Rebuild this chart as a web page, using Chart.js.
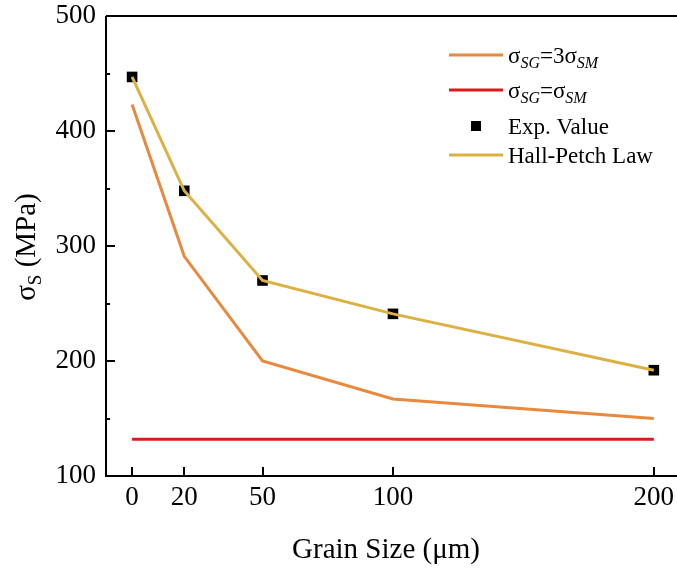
<!DOCTYPE html>
<html>
<head>
<meta charset="utf-8">
<script src="https://cdn.jsdelivr.net/npm/chart.js@4.4.1/dist/chart.umd.min.js"></script>
<style>
  html, body { margin: 0; padding: 0; background: #fff; overflow: hidden; }
  #wrap { width: 720px; height: 570px; position: relative; }
</style>
</head>
<body>
<div id="wrap"><canvas id="c" width="720" height="570"></canvas></div>
<script>
// Grain sizes (µm) and yield strength curves (MPa)
const grainSizes = [0, 20, 50, 100, 200];
const sigmaSG3 = [423, 291, 200, 167, 150];   // σSG = 3σSM
const sigmaSG1 = [132, 132, 132, 132, 132];   // σSG = σSM
const expValues = [447, 348, 270, 241, 192];  // experimental
const hallPetch = [447, 348, 270, 241, 192];  // Hall-Petch fit
const xTicks = [0, 20, 50, 100, 200];
const yMajorTicks = [100, 200, 300, 400, 500];
const yMinorTicks = [150, 250, 350, 450];

const SERIF = '"Liberation Serif", "Times New Roman", serif';
const pts = arr => grainSizes.map((x, i) => ({ x, y: arr[i] }));

// Axis frame, inward ticks, rich-text titles and legend
const framePlugin = {
  id: 'frame',
  afterDraw(chart) {
    const ctx = chart.ctx;
    const a = chart.chartArea;
    const xs = chart.scales.x, ys = chart.scales.y;
    ctx.save();
    ctx.strokeStyle = '#000';
    ctx.lineWidth = 2;
    ctx.beginPath();
    ctx.moveTo(a.left, a.top); ctx.lineTo(a.left, a.bottom); ctx.lineTo(a.right, a.bottom);
    ctx.moveTo(a.left, a.top); ctx.lineTo(a.right, a.top);
    ctx.stroke();
    ctx.beginPath();
    yMajorTicks.forEach(v => { const p = Math.round(ys.getPixelForValue(v)); ctx.moveTo(a.left, p); ctx.lineTo(a.left + 9, p); });
    yMinorTicks.forEach(v => { const p = Math.round(ys.getPixelForValue(v)); ctx.moveTo(a.left, p); ctx.lineTo(a.left + 4, p); });
    xTicks.forEach(v => { const p = Math.round(xs.getPixelForValue(v)); ctx.moveTo(p, a.bottom); ctx.lineTo(p, a.bottom - 9); });
    ctx.stroke();

    // draws a run of [text, size, italic, dy] pieces starting at x on baseline y
    function runs(parts, x, y) {
      parts.forEach(([t, size, italic, dy]) => {
        ctx.font = (italic ? 'italic ' : '') + size + 'px ' + SERIF;
        ctx.fillText(t, x, y + (dy || 0));
        x += ctx.measureText(t).width;
      });
      return x;
    }
    ctx.fillStyle = '#000';
    ctx.textBaseline = 'alphabetic';
    ctx.textAlign = 'left';

    // x title
    ctx.font = '29px ' + SERIF;
    const xt = 'Grain Size (μm)';
    const xw = ctx.measureText(xt).width;
    ctx.fillText(xt, 386 - xw / 2, 558);

    // y title (rotated)
    ctx.save();
    ctx.translate(35, 247);
    ctx.rotate(-Math.PI / 2);
    const yparts = [['σ', 29, false, 0], ['S', 19, false, 6], [' (MPa)', 29, false, 0]];
    let tw = 0;
    yparts.forEach(([t, s, it]) => { ctx.font = (it ? 'italic ' : '') + s + 'px ' + SERIF; tw += ctx.measureText(t).width; });
    runs(yparts, -tw / 2, 0);
    ctx.restore();

    // legend
    const lx0 = 449, lx1 = 503, tx = 508;
    const rows = [
      { y: 55, type: 'line', color: '#E8893E', parts: [['σ', 23], ['SG', 16, true, 5], ['=3σ', 23], ['SM', 16, true, 5]] },
      { y: 90, type: 'line', color: '#DC1A1A', parts: [['σ', 23], ['SG', 16, true, 5], ['=σ', 23], ['SM', 16, true, 5]] },
      { y: 126, type: 'square', color: '#000', parts: [['Exp. Value', 23]] },
      { y: 155, type: 'line', color: '#DDB042', parts: [['Hall-Petch Law', 23]] }
    ];
    rows.forEach(r => {
      if (r.type === 'line') {
        ctx.strokeStyle = r.color; ctx.lineWidth = 3;
        ctx.beginPath(); ctx.moveTo(lx0, r.y); ctx.lineTo(lx1, r.y); ctx.stroke();
      } else {
        ctx.fillStyle = r.color; ctx.fillRect(471, r.y - 5, 10, 10);
      }
      ctx.fillStyle = '#000';
      runs(r.parts, tx, r.y + 8);
    });
    ctx.restore();
  }
};

new Chart(document.getElementById('c'), {
  type: 'line',
  data: {
    datasets: [
      { label: 'σSG=3σSM', data: pts(sigmaSG3), borderColor: '#E8893E', borderWidth: 3, pointRadius: 0, order: 3 },
      { label: 'σSG=σSM', data: pts(sigmaSG1), borderColor: '#DC1A1A', borderWidth: 3, pointRadius: 0, order: 4 },
      { label: 'Exp. Value', data: pts(expValues), showLine: false, pointStyle: 'rect', pointRadius: 7.5,
        pointBackgroundColor: '#000', pointBorderColor: '#000', pointBorderWidth: 0, order: 2 },
      { label: 'Hall-Petch Law', data: pts(hallPetch), borderColor: '#DDB042', borderWidth: 3, pointRadius: 0, order: 1 }
    ]
  },
  options: {
    responsive: false,
    animation: false,
    layout: { padding: { top: 16, right: 14, left: 0, bottom: 0 } },
    plugins: { legend: { display: false }, tooltip: { enabled: false } },
    scales: {
      x: {
        type: 'linear', min: -10, max: 220,
        afterBuildTicks: s => { s.ticks = xTicks.map(v => ({ value: v })); },
        afterFit: s => { s.height = 94; s.paddingLeft = 0; s.paddingRight = 0; },
        grid: { display: false, drawTicks: false },
        border: { display: false },
        ticks: { padding: 6, color: '#000', font: { family: SERIF, size: 27 } }
      },
      y: {
        min: 100, max: 500,
        afterBuildTicks: s => { s.ticks = yMajorTicks.map(v => ({ value: v })); },
        afterFit: s => { s.width = 106; s.paddingTop = 0; s.paddingBottom = 0; },
        grid: { display: false, drawTicks: false },
        border: { display: false },
        ticks: { padding: 10, color: '#000', font: { family: SERIF, size: 27 } }
      }
    }
  },
  plugins: [framePlugin]
});
</script>
</body>
</html>
